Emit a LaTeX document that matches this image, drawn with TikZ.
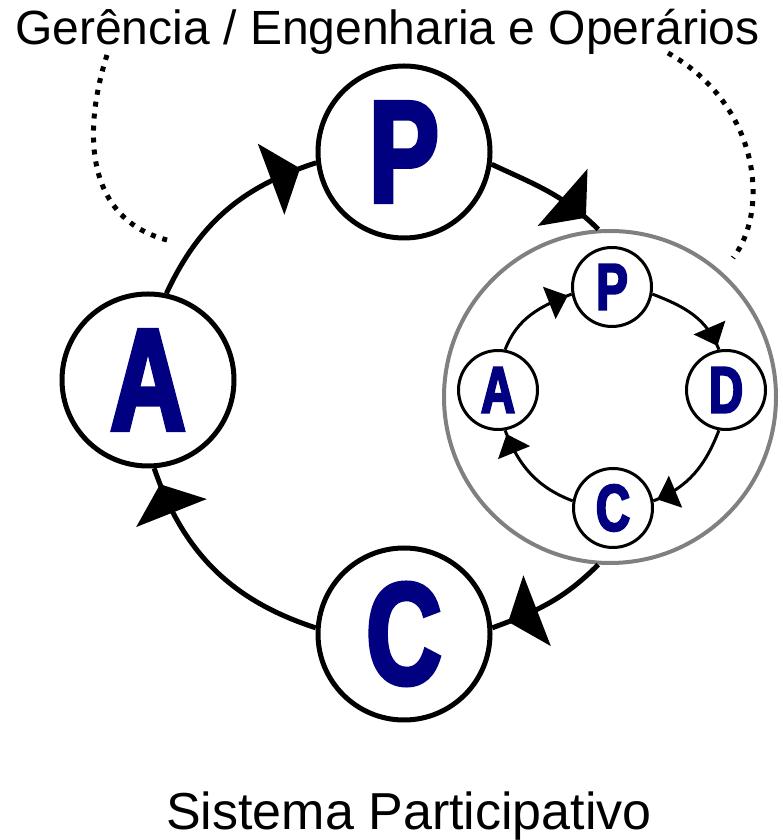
\documentclass[tikz,border=0pt]{standalone}
\usepackage{fontspec}
\setmainfont{Liberation Sans}
\newfontfamily\pdcafont[FakeStretch=0.72,FakeBold=3]{Liberation Sans}
\usetikzlibrary{arrows.meta,decorations.markings}
\definecolor{pdcanavy}{RGB}{0,0,128}

\begin{document}
\begin{tikzpicture}[x=1pt,y=1pt,
    big node/.style={circle,draw,line width=5pt,fill=white,minimum size=172pt,inner sep=0pt,
      text=pdcanavy,font=\pdcafont\bfseries\fontsize{145}{145}\selectfont},
    small node/.style={circle,draw,line width=3pt,fill=white,minimum size=79pt,inner sep=0pt,
      text=pdcanavy,font=\pdcafont\bfseries\fontsize{66}{66}\selectfont},
    big flow/.style={line width=5pt,postaction={decorate},decoration={markings,
      mark=at position -17pt with {\arrow{Triangle[length=31pt,width=75pt]}}}},
    small flow/.style={line width=3pt,postaction={decorate},decoration={markings,
      mark=at position -4pt with {\arrow{Triangle[length=20pt,width=34pt]}}}},
    label text/.style={inner sep=0pt,anchor=base},
    dots/.style={line width=5pt,dash pattern=on 5pt off 7pt}]
    \useasboundingbox (0,0) rectangle (782,840);

    % outer cycle
    \node[big node] (P) at (404,688) {P};
    \node[big node] (A) at (148,460) {A};
    \node[big node] (C) at (404,206) {C};
    \node[circle,draw=gray,line width=4pt,fill=white,minimum size=332pt] (G) at (610,443) {};

    % inner cycle
    \node[small node] (iP) at (612,553) {P};
    \node[small node] (iD) at (726,450) {D};
    \node[small node] (iC) at (613,332) {C};
    \node[small node] (iA) at (498,450) {A};

    \node[label text,font=\fontsize{48}{50}\selectfont] (team) at (387.5,795) {Gerência / Engenharia e Operários};
    \node[label text,font=\fontsize{52}{54}\selectfont] (sys) at (409,10) {Sistema Participativo};

    \path
        (A.78) edge[big flow,out=65,in=198] (P.187)
        (P.-8) edge[big flow,out=-25,in=135] (G.94)
        (G.-94) edge[big flow,out=225,in=20] (C.4)
        (C.176) edge[big flow,out=162,in=289] (A.274);

    \path
        (iA.80) edge[small flow,out=69,in=201] (iP.190)
        (iP.-10) edge[small flow,out=-21,in=111] (iD.100)
        (iD.-100) edge[small flow,out=-111,in=21] (iC.10)
        (iC.170) edge[small flow,out=159,in=291] (iA.280);

    % who takes part
    \coordinate (t1) at (107,785);
    \coordinate (t2) at (167,600);
    \coordinate (t3) at (668,787);
    \coordinate (t4) at (733,582);
    \draw[dots] (t1) .. controls (80,700) and (90,620) .. (t2);
    \draw[dots] (t3) .. controls (760,735) and (770,630) .. (t4);
\end{tikzpicture}
\end{document}
